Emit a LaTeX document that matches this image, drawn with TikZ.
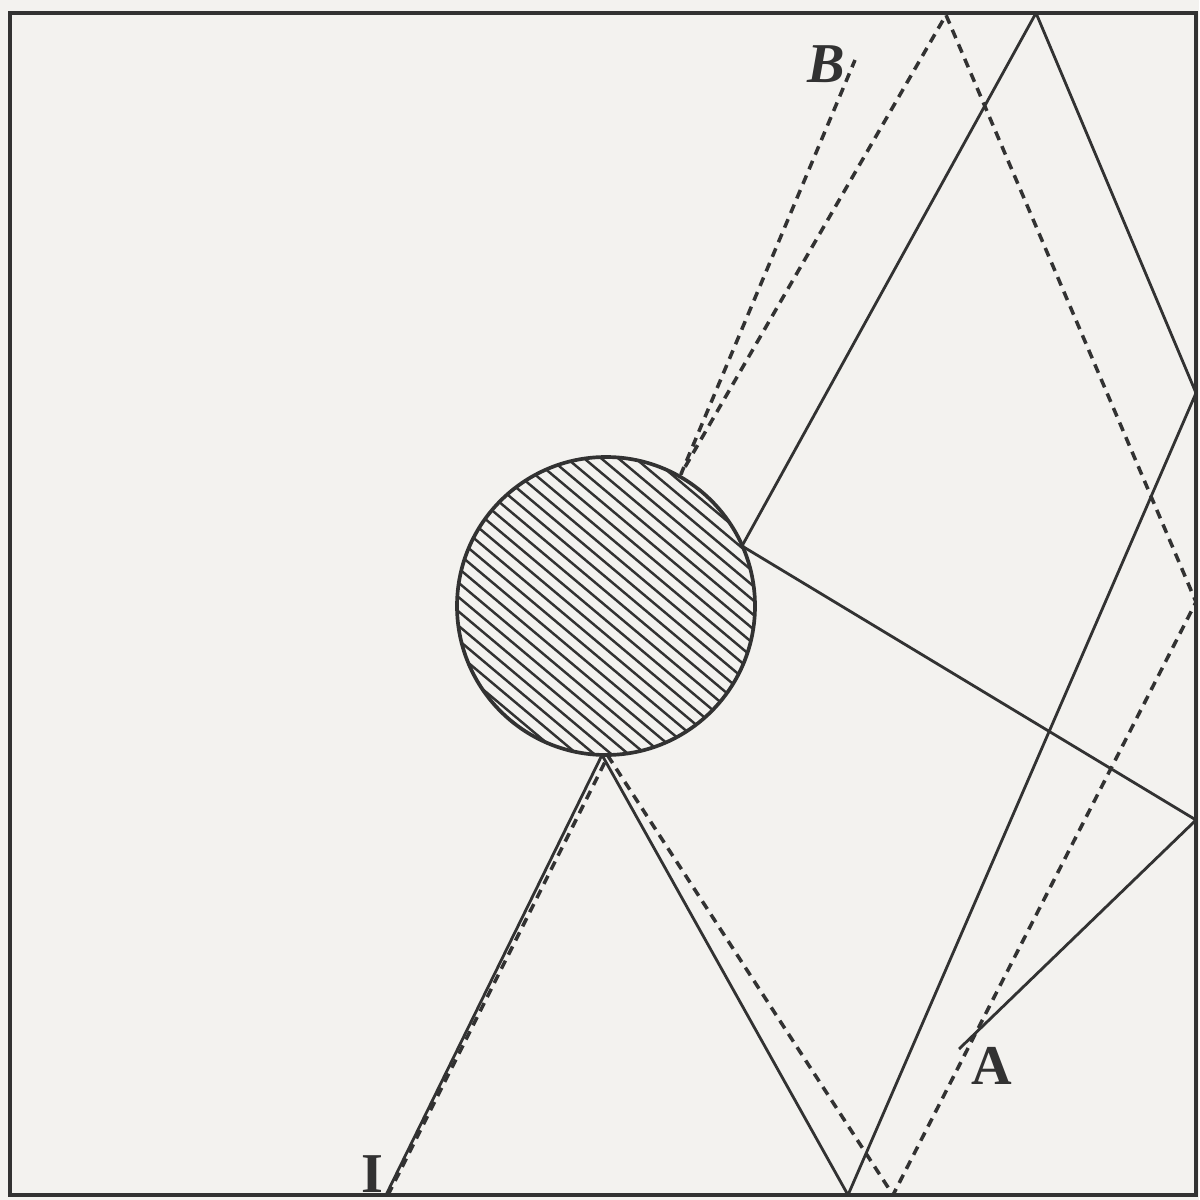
\documentclass[tikz,border=0pt]{standalone}
\usepackage{fontspec}
\setmainfont{Liberation Serif}
\definecolor{paper}{RGB}{243,242,239}
\definecolor{ink}{RGB}{50,50,50}
\begin{document}
\begin{tikzpicture}[x=0.1mm,y=-0.1mm,
  traj/.style={ink,line width=0.8pt,line join=round},
  dtraj/.style={ink,line width=1pt,line join=round,dash pattern=on 2.6pt off 1.9pt},
  lbl/.style={font=\fontsize{16}{18}\selectfont\bfseries,text=ink,inner sep=0pt}]
\fill[paper] (0,0) rectangle (1199,1200);
\useasboundingbox (0,0) rectangle (1199,1200);
% points
\coordinate (O) at (606,606);
\coordinate (I) at (386,1195);
\coordinate (Id) at (388,1195);
\coordinate (S1) at (602,755);
\coordinate (S2) at (848,1195);
\coordinate (S3) at (1196,393);
\coordinate (S4) at (1036,13);
\coordinate (S5) at (742,546);
\coordinate (S6) at (1196,820);
\coordinate (A) at (959,1049);
\coordinate (D1) at (608,756);
\coordinate (D2) at (893,1195);
\coordinate (D3) at (1196,602);
\coordinate (D4) at (946,15);
\coordinate (D5) at (681,474);
\coordinate (B) at (855,60);
% obstacle hatching
\begin{scope}
  \clip (O) circle[radius=14.9mm];
  \foreach \k in {-16,...,16} {
    \draw[ink,line width=0.7pt] ({606-0.643*11*\k-0.766*180},{606+0.766*11*\k-0.643*180}) -- ++(275.8,231.5);
  }
\end{scope}
\draw[ink,line width=1.05pt] (O) circle[radius=14.9mm];
% solid trajectory
\draw[traj] (I) -- (S1) -- (S2) -- (S3) -- (S4) -- (S5) -- (S6) -- (A);
% dashed trajectory
\draw[dtraj] (Id) -- (D1) -- (D2) -- (D3) -- (D4) -- (D5) -- (B);
% labels
\node[lbl,font=\fontsize{16}{18}\selectfont\bfseries\itshape] (labB) at (826,64) {B};
\node[lbl] (labA) at (992,1066) {A};
\node[lbl] (labI) at (372,1174) {I};
% box
\draw[ink,line width=1.2pt] (10,13) rectangle (1196,1195);
\end{tikzpicture}
\end{document}
